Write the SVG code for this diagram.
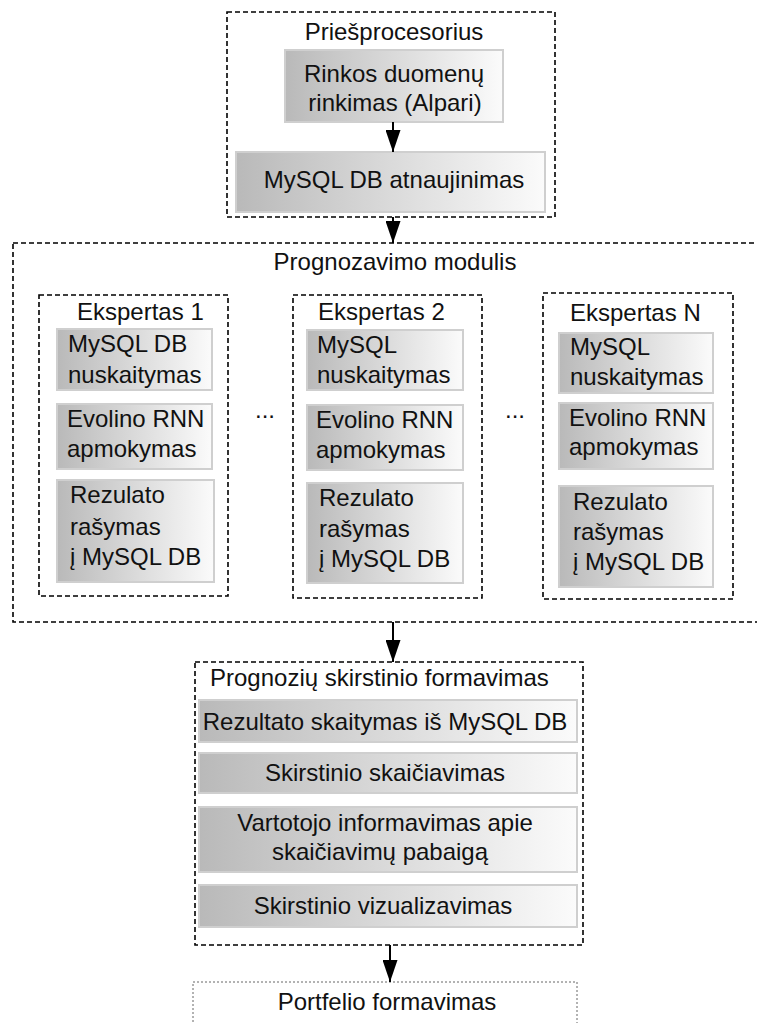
<svg xmlns="http://www.w3.org/2000/svg" width="757" height="1023" viewBox="0 0 757 1023">
<defs>
<linearGradient id="g" x1="0" y1="0" x2="1" y2="0">
<stop offset="0" stop-color="#b9b9b9"/>
<stop offset="1" stop-color="#fbfbfb"/>
</linearGradient>
<marker id="ah" viewBox="0 0 22 15" refX="22" refY="7.5" markerWidth="22" markerHeight="15" markerUnits="userSpaceOnUse" orient="auto">
<path d="M0,0 L22,7.5 L0,15 Z" fill="#000"/>
</marker>
</defs>
<style>
text{font-family:"Liberation Sans",Arial,sans-serif;font-size:24px;fill:#111}
.c{text-anchor:middle}
.grp{fill:none;stroke:#000;stroke-width:1.6;stroke-dasharray:5,3}
.box{fill:url(#g);stroke:#cfcfcf;stroke-width:2}
.port{fill:none;stroke:#666;stroke-width:1;stroke-dasharray:2,2}
.ar{stroke:#000;stroke-width:2;fill:none}
</style>
<g id="preprocessor">
<rect class="grp" x="227" y="12" width="328" height="205"/>
<text class="c" x="394" y="40">Priešprocesorius</text>
<g id="rinkos">
<rect class="box" x="285" y="50" width="218" height="72"/>
<text class="c" x="394" y="82">Rinkos duomenų</text>
<text class="c" x="395" y="111">rinkimas (Alpari)</text>
</g>
<g id="mysql-update">
<rect class="box" x="236" y="152" width="309" height="60"/>
<text class="c" x="394" y="188">MySQL DB atnaujinimas</text>
</g>
</g>
<g id="prognozavimo">
<rect class="grp" x="13" y="243" width="760" height="379"/>
<text class="c" x="395" y="270">Prognozavimo modulis</text>
<text class="c" x="265" y="418">...</text>
<text class="c" x="515" y="418">...</text>
</g>
<g id="expert1">
<rect class="grp" x="39" y="295" width="189" height="301"/>
<text x="77" y="320">Ekspertas 1</text>
<rect class="box" x="57" y="329" width="155" height="61"/>
<text x="68" y="352">MySQL DB</text>
<text x="68" y="383">nuskaitymas</text>
<rect class="box" x="57" y="404" width="155" height="65"/>
<text x="67" y="427">Evolino RNN</text>
<text x="67" y="457">apmokymas</text>
<rect class="box" x="57" y="480" width="157" height="102"/>
<text x="70" y="503">Rezulato</text>
<text x="70" y="535">rašymas</text>
<text x="70" y="565">į MySQL DB</text>
</g>
<g id="expert2">
<rect class="grp" x="293" y="295" width="189" height="303"/>
<text x="318" y="320">Ekspertas 2</text>
<rect class="box" x="307" y="330" width="156" height="60"/>
<text x="317" y="353">MySQL</text>
<text x="317" y="383">nuskaitymas</text>
<rect class="box" x="307" y="405" width="156" height="65"/>
<text x="316" y="428">Evolino RNN</text>
<text x="316" y="458">apmokymas</text>
<rect class="box" x="307" y="483" width="156" height="100"/>
<text x="319" y="506">Rezulato</text>
<text x="319" y="537">rašymas</text>
<text x="319" y="567">į MySQL DB</text>
</g>
<g id="expertN">
<rect class="grp" x="543" y="293" width="190" height="306"/>
<text x="570" y="321">Ekspertas N</text>
<rect class="box" x="559" y="333" width="154" height="60"/>
<text x="570" y="355">MySQL</text>
<text x="570" y="385">nuskaitymas</text>
<rect class="box" x="559" y="403" width="154" height="66"/>
<text x="569" y="426">Evolino RNN</text>
<text x="569" y="455">apmokymas</text>
<rect class="box" x="559" y="486" width="154" height="101"/>
<text x="573" y="510">Rezulato</text>
<text x="573" y="540">rašymas</text>
<text x="573" y="570">į MySQL DB</text>
</g>
<g id="skirstinio">
<rect class="grp" x="195" y="662" width="388" height="283"/>
<text x="210" y="686">Prognozių skirstinio formavimas</text>
<rect class="box" x="199" y="700" width="378" height="42"/>
<text class="c" x="385" y="730">Rezultato skaitymas iš MySQL DB</text>
<rect class="box" x="199" y="753" width="378" height="40"/>
<text class="c" x="385" y="781">Skirstinio skaičiavimas</text>
<rect class="box" x="199" y="807" width="378" height="65"/>
<text class="c" x="385" y="831">Vartotojo informavimas apie</text>
<text class="c" x="380" y="860">skaičiavimų pabaigą</text>
<rect class="box" x="199" y="885" width="378" height="42"/>
<text class="c" x="383" y="914">Skirstinio vizualizavimas</text>
</g>
<g id="portfelio">
<rect class="port" x="193" y="982" width="384" height="60"/>
<text class="c" x="387" y="1010">Portfelio formavimas</text>
</g>
<g id="connectors">
<line class="ar" x1="393" y1="122" x2="393" y2="152" marker-end="url(#ah)"/>
<line class="ar" x1="393" y1="217" x2="393" y2="243" marker-end="url(#ah)"/>
<line class="ar" x1="393" y1="622" x2="393" y2="662" marker-end="url(#ah)"/>
<line class="ar" x1="390" y1="945" x2="390" y2="982" marker-end="url(#ah)"/>
</g>
</svg>
